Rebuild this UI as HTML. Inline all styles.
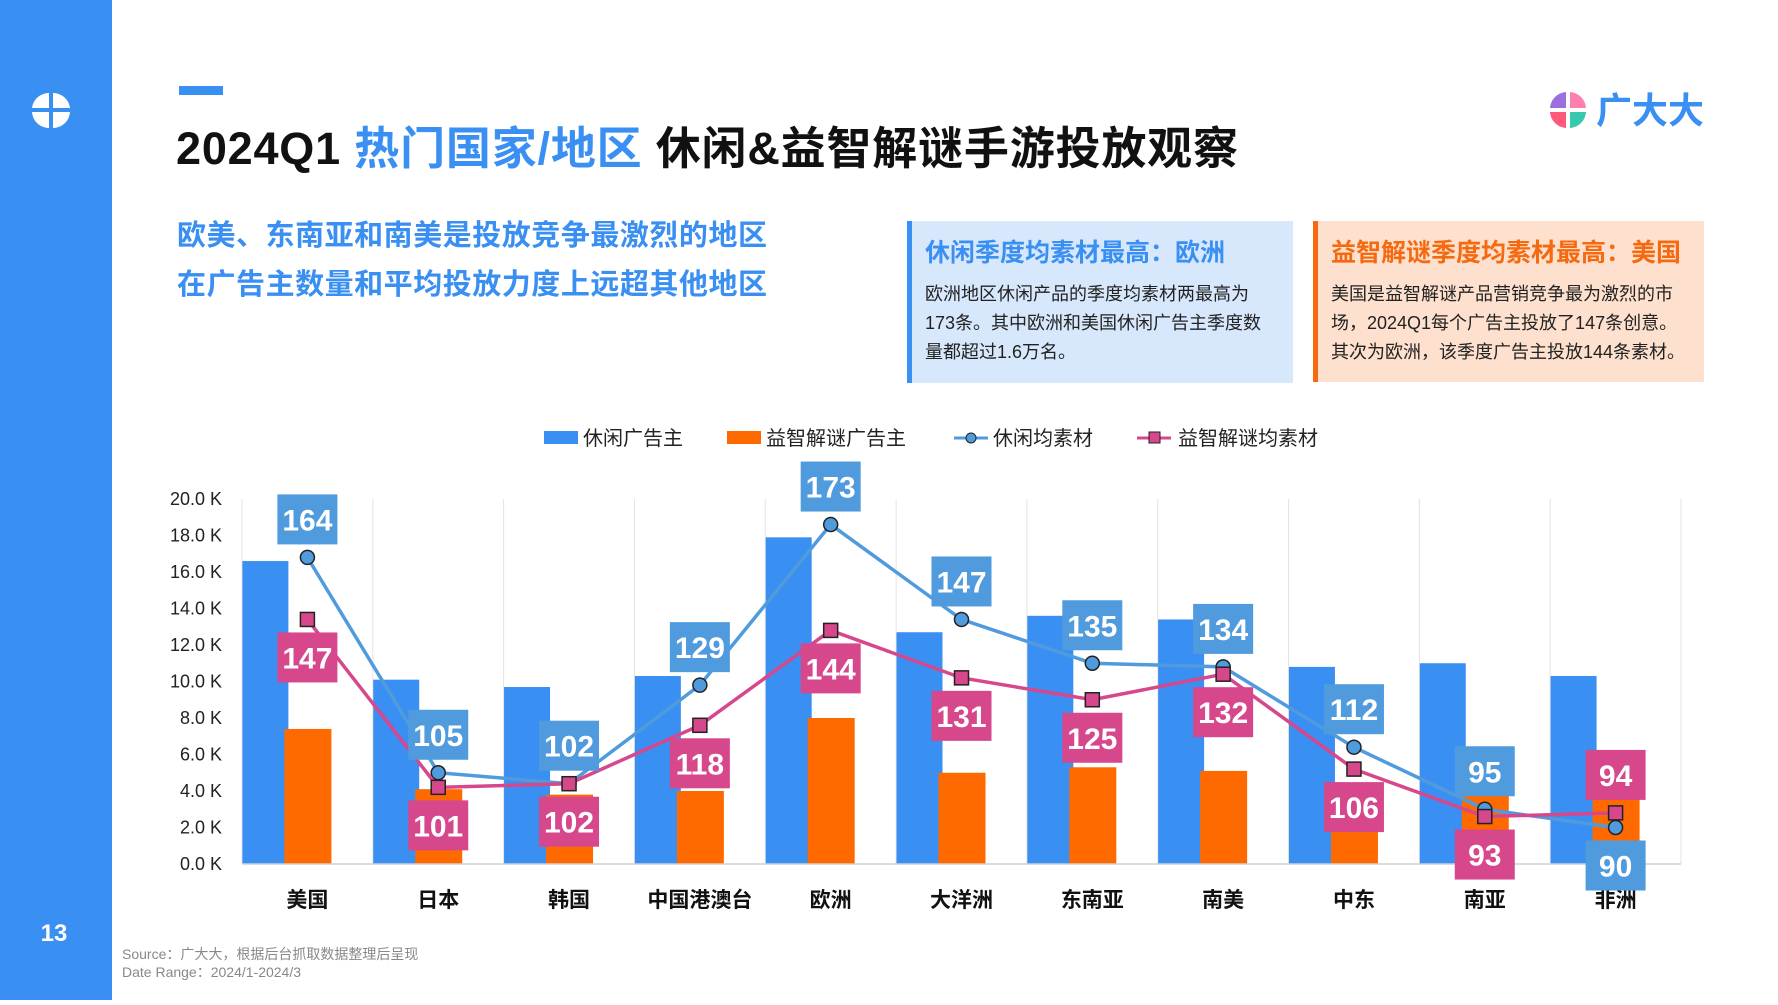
<!DOCTYPE html>
<html><head><meta charset="utf-8">
<style>
html,body{margin:0;padding:0;background:#fff;}
body{width:1778px;height:1000px;overflow:hidden;position:relative;font-family:"Liberation Sans","Noto Sans CJK SC",sans-serif;}
svg text{font-family:"Liberation Sans","Noto Sans CJK SC",sans-serif;}
</style></head>
<body>
<svg id="chart" width="1778" height="1000" viewBox="0 0 1778 1000" xmlns="http://www.w3.org/2000/svg">
  <rect x="0" y="0" width="112" height="1000" fill="#3a8ff2"/>
  <g fill="#fff">
    <path d="M49 93 A17 17 0 0 0 32 108 L49 108 Z"/>
    <path d="M53 93 A17 17 0 0 1 70 108 L53 108 Z"/>
    <path d="M32 112 A17 17 0 0 0 49 128 L49 112 Z"/>
    <path d="M53 112 L70 112 A17 17 0 0 1 53 128 Z"/>
  </g>
  <text x="54" y="941" fill="#fff" font-size="24" font-weight="bold" text-anchor="middle">13</text>
  <rect x="179" y="86" width="44" height="9" fill="#3a8ff2"/>
  <text x="176" y="164" font-size="45" font-weight="bold" fill="#111" textLength="1062" lengthAdjust="spacing">2024Q1 <tspan fill="#3a8ff2">热门国家/地区</tspan> 休闲&amp;益智解谜手游投放观察</text>
  <g>
    <path d="M1566 92 A17 17 0 0 0 1550 108 L1566 108 Z" fill="#9b6fe0"/>
    <path d="M1570 92 A17 17 0 0 1 1586 108 L1570 108 Z" fill="#ff7fb0"/>
    <path d="M1550 112 A17 17 0 0 0 1566 128 L1566 112 Z" fill="#ff5a7a"/>
    <path d="M1570 112 L1586 112 A17 17 0 0 1 1570 128 Z" fill="#36c9b0"/>
    <text x="1596" y="123" font-size="36" font-weight="bold" fill="#3a8ff2">广大大</text>
  </g>
  <text x="177" y="245" font-size="29" font-weight="bold" fill="#3a8ff2" textLength="590" lengthAdjust="spacing">欧美、东南亚和南美是投放竞争最激烈的地区</text>
  <text x="177" y="294" font-size="29" font-weight="bold" fill="#3a8ff2" textLength="590" lengthAdjust="spacing">在广告主数量和平均投放力度上远超其他地区</text>

  <g>
    <rect x="907" y="221" width="386" height="162" fill="#d8e8fc"/>
    <rect x="907" y="221" width="5" height="162" fill="#3a8ff2"/>
    <text x="925" y="261" font-size="25" font-weight="bold" fill="#3a8ff2">休闲季度均素材最高：欧洲</text>
    <text x="925" y="300" font-size="18" fill="#222">欧洲地区休闲产品的季度均素材两最高为</text>
    <text x="925" y="329" font-size="18" fill="#222">173条。其中欧洲和美国休闲广告主季度数</text>
    <text x="925" y="358" font-size="18" fill="#222">量都超过1.6万名。</text>
  </g>
  <g>
    <rect x="1313" y="221" width="391" height="161" fill="#fde0cd"/>
    <rect x="1313" y="221" width="5" height="161" fill="#f56a10"/>
    <text x="1331" y="261" font-size="25" font-weight="bold" fill="#f56a10">益智解谜季度均素材最高：美国</text>
    <text x="1331" y="300" font-size="18" fill="#222">美国是益智解谜产品营销竞争最为激烈的市</text>
    <text x="1331" y="329" font-size="18" fill="#222">场，2024Q1每个广告主投放了147条创意。</text>
    <text x="1331" y="358" font-size="18" fill="#222">其次为欧洲，该季度广告主投放144条素材。</text>
  </g>

  <g>
    <g><rect x="544" y="431" width="34" height="13" fill="#3a8ff2"/><text x="583" y="445" font-size="20" fill="#222">休闲广告主</text></g>
    <g><rect x="727" y="431" width="34" height="13" fill="#ff6a00"/><text x="766" y="445" font-size="20" fill="#222">益智解谜广告主</text></g>
    <g><line x1="954" y1="438" x2="988" y2="438" stroke="#4f9bdd" stroke-width="3"/><circle cx="971" cy="438" r="5" fill="#4f9bdd" stroke="#222" stroke-width="1"/><text x="993" y="445" font-size="20" fill="#222">休闲均素材</text></g>
    <g><line x1="1137" y1="438" x2="1171" y2="438" stroke="#d6478c" stroke-width="3"/><rect x="1149" y="432" width="11" height="11" fill="#d6478c" stroke="#222" stroke-width="1"/><text x="1178" y="445" font-size="20" fill="#222">益智解谜均素材</text></g>
  </g>
  <g id="plot"></g>
  <text x="122" y="959" font-size="14" fill="#888">Source：广大大，根据后台抓取数据整理后呈现</text>
  <text x="122" y="977" font-size="14" fill="#888">Date Range：2024/1-2024/3</text>
</svg>
<script>
const categories = ["美国","日本","韩国","中国港澳台","欧洲","大洋洲","东南亚","南美","中东","南亚","非洲"];
const casualAdvertisersK = [16.6,10.1,9.7,10.3,17.9,12.7,13.6,13.4,10.8,11.0,10.3];
const puzzleAdvertisersK = [7.4,4.1,3.8,4.0,8.0,5.0,5.3,5.1,4.2,4.4,4.0];
const casualAvg = [164,105,102,129,173,147,135,134,112,95,90];
const puzzleAvg = [147,101,102,118,144,131,125,132,106,93,94];
const yTicks = [0,2,4,6,8,10,12,14,16,18,20];

const NS = "http://www.w3.org/2000/svg";
const plot = document.getElementById("plot");
const X0 = 242, X1 = 1681, Y0 = 864, Ytop = 499;
const bw = (X1 - X0) / categories.length;
const xc = i => X0 + bw * (i + 0.5);
const y1 = v => Y0 - (v / 20) * (Y0 - Ytop);
const y2 = v => Y0 - ((v - 80) / 100) * (Y0 - Ytop);
function mk(tag, attrs, parent) {
  const e = document.createElementNS(NS, tag);
  for (const k in attrs) e.setAttribute(k, attrs[k]);
  (parent || plot).appendChild(e);
  return e;
}
for (let i = 0; i <= categories.length; i++) {
  const g = mk("line", {x1: X0 + bw * i, x2: X0 + bw * i, y1: Ytop, y2: Y0, stroke: "#e3e3e3", "stroke-width": 1});
  
  
}
yTicks.forEach(t => {
  const tx = mk("text", {x: 222, y: y1(t) + 6, "font-size": 18, fill: "#222", "text-anchor": "end"});
  tx.textContent = t.toFixed(1) + " K";
  
  
});
categories.forEach((c, i) => {
  const b = mk("rect", {x: xc(i) - 65, y: y1(casualAdvertisersK[i]), width: 46, height: Y0 - y1(casualAdvertisersK[i]), fill: "#3a8ff2"});
  
  
  const o = mk("rect", {x: xc(i) - 23, y: y1(puzzleAdvertisersK[i]), width: 47, height: Y0 - y1(puzzleAdvertisersK[i]), fill: "#ff6a00"});
  
  
  const t = mk("text", {x: xc(i), y: 907, "font-size": 21, "font-weight": "bold", fill: "#111", "text-anchor": "middle"});
  t.textContent = c;
  
  
});
mk("line", {x1: X0, x2: X1, y1: Y0, y2: Y0, stroke: "#d0d0d0", "stroke-width": 1.5});
function series(vals, color, marker, name) {
  const pl = mk("polyline", {points: vals.map((v, i) => xc(i) + "," + y2(v)).join(" "), fill: "none", stroke: color, "stroke-width": 3.5});
  
  
  vals.forEach((v, i) => {
    let m;
    if (marker === "circle") m = mk("circle", {cx: xc(i), cy: y2(v), r: 7, fill: color, stroke: "#222", "stroke-width": 1.5});
    else m = mk("rect", {x: xc(i) - 7, y: y2(v) - 7, width: 14, height: 14, fill: color, stroke: "#222", "stroke-width": 1.5});
    
    
  });
}
series(casualAvg, "#4f9bdd", "circle", "casual-avg");
series(puzzleAvg, "#d6478c", "square", "puzzle-avg");
function labels(vals, color, dirFn, name) {
  vals.forEach((v, i) => {
    const cy = y2(v) + dirFn(i) * 38;
    const r = mk("rect", {x: xc(i) - 30, y: cy - 25, width: 60, height: 50, fill: color});
    
    
    const t = mk("text", {x: xc(i), y: cy + 11, "font-size": 30, "font-weight": "bold", fill: "#fff", "text-anchor": "middle"});
    t.textContent = v;
    
    
  });
}
const last = categories.length - 1;
labels(casualAvg, "#4f9bdd", i => i === last ? 1 : -1, "casual-avg");
labels(puzzleAvg, "#d6478c", i => i === last ? -1 : 1, "puzzle-avg");
</script>
</body></html>
